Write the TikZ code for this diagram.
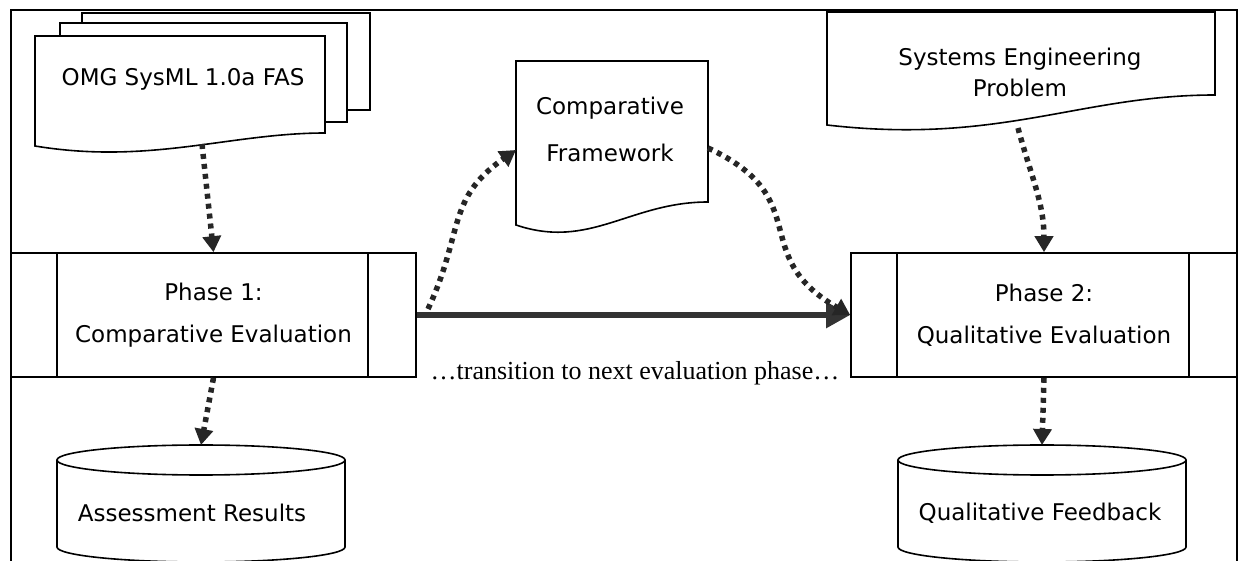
\documentclass[tikz,border=0pt]{standalone}
\usepackage{fontspec}
\setmainfont{DejaVu Sans}
\newfontfamily\transfont{Liberation Serif}
\usetikzlibrary{arrows.meta}

\begin{document}
\begin{tikzpicture}[x=1pt,y=1pt,
					line width=1.6pt,
					doc/.style={draw,fill=white},
					label node/.style={align=center,font=\fontsize{23}{28}\selectfont},
					phase node/.style={draw,align=center,minimum height=124pt,
						font=\fontsize{23}{45}\selectfont,
						path picture={
							\draw ([xshift=46pt]path picture bounding box.north west)
								-- ([xshift=46pt]path picture bounding box.south west);
							\draw ([xshift=-48pt]path picture bounding box.north east)
								-- ([xshift=-48pt]path picture bounding box.south east);}},
					dot flow/.style={line width=5.5pt,dash pattern=on 5pt off 5pt,black!85,
						-{Triangle[width=18pt,length=16pt]}},
					main flow/.style={line width=5.5pt,black!80,
						-{Triangle[width=25pt,length=24pt]}}]

  \clip (0,0) rectangle (1243,560);
  % frame
  \draw (11,550) rectangle (1237,-20);

  % stacked specification
  \draw[doc] (82,450) rectangle (370,547);
  \draw[doc] (60,438) rectangle (347,537);
  \draw[doc] (35,524) -- (325,524) -- (325,427)
    .. controls (230,427) and (150,395) .. (35,414) -- cycle;
  \node[label node] (fas) at (183,481) {OMG SysML 1.0a FAS};
  \coordinate (fas out) at (202,416);

  % framework
  \draw[doc] (516,499) -- (708,499) -- (708,358)
    .. controls (630,358) and (590,310) .. (516,335) -- cycle;
  \node[label node,font=\fontsize{23}{47}\selectfont] (cf) at (610,431) {Comparative\\Framework};
  \coordinate (cf in) at (516,410);
  \coordinate (cf out) at (708,412);

  % problem
  \draw[doc] (827,548) -- (1215,548) -- (1215,465)
    .. controls (1080,465) and (1000,415) .. (827,435) -- cycle;
  \node[label node,font=\fontsize{23}{31}\selectfont] (sep) at (1020,488) {Systems Engineering\\Problem};
  \coordinate (sep out) at (1018,432);

  % phases
  \node[phase node,minimum width=405pt] (p1) at (213.5,245) {\raisebox{-3pt}{Phase 1:}\\Comparative Evaluation};
  \node[phase node,minimum width=386pt] (p2) at (1044,245) {\raisebox{-3pt}{Phase 2:}\\Qualitative Evaluation};
  \coordinate (p1 out) at (428,251);

  % results
  \draw[fill=white] (57,100) -- (57,13) arc[start angle=180,end angle=360,x radius=144,y radius=15] -- (345,100);
  \draw (201,100) ellipse [x radius=144,y radius=15];
  \node[label node] (ar) at (192,47) {Assessment Results};
  \coordinate (ar top) at (201,115);

  \draw[fill=white] (898,100) -- (898,13) arc[start angle=180,end angle=360,x radius=144,y radius=15] -- (1186,100);
  \draw (1042,100) ellipse [x radius=144,y radius=15];
  \node[label node] (qf) at (1040,47) {Qualitative Feedback};
  \coordinate (qf top) at (1042,115);

  \node[font=\transfont\fontsize{26}{30}\selectfont] (trans) at (635,187) {\dots transition to next evaluation phase\dots};

  % flows
  \draw[main flow] (p1) -- (p2);
  \path[dot flow]
    (fas out) edge (p1.north)
    (p1 out) edge[out=65,in=215,looseness=1.2] (cf in)
    (cf out) edge[out=-25,in=150,looseness=1.4] (p2.west)
    (sep out) edge[out=-75,in=90] (p2.north)
    (p1.south) edge (ar top)
    (p2.south) edge (qf top);
\end{tikzpicture}
\end{document}
